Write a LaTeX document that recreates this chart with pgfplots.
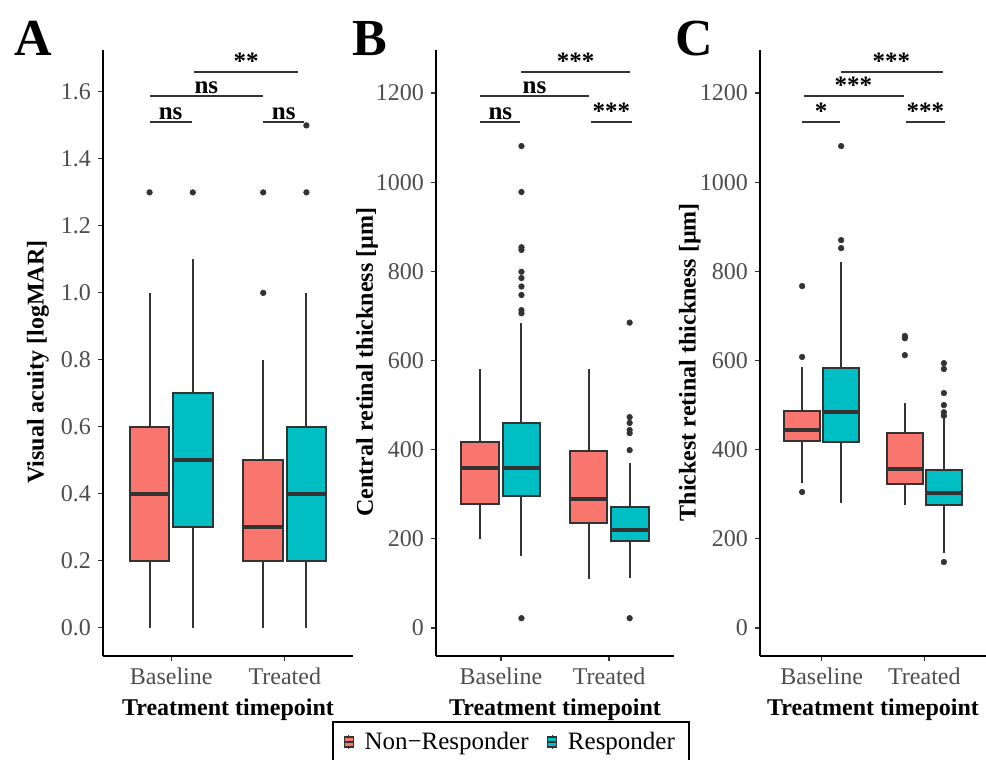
\documentclass[border=0pt]{standalone}
\usepackage{fontspec}
\setmainfont{Liberation Serif}
\usepackage{pgfplots}
\pgfplotsset{compat=1.18}

\definecolor{nr}{HTML}{F8766D}
\definecolor{rs}{HTML}{00BFC4}
\definecolor{dg}{HTML}{333333}
\definecolor{tk}{HTML}{4D4D4D}

\pgfplotsset{
  panel/.style={
    scale only axis, height=303pt, anchor=south west,
    xmin=0.4, xmax=2.6, xtick={1,2}, xticklabels={Baseline,Treated},
    axis x line*=bottom, axis y line*=left,
    axis line style={-, black, line width=1pt},
    tick align=outside, major tick length=2.5pt,
    tick style={dg, line width=0.6pt},
    ticklabel style={font=\fontsize{12}{14}\selectfont, text=tk},
    /pgf/number format/assume math mode=true,
    label style={font=\bfseries\fontsize{12}{14}\selectfont},
    xlabel={Treatment timepoint},
    clip=false,
  },
  out/.style={forget plot, only marks, mark=*, mark size=1.4pt,
    mark options={draw=dg, fill=dg, line width=0.3pt}},
  sig/.style={forget plot, dg, line width=0.9pt},
}

% colour, centre, left, right, lower whisker, Q1, median, Q3, upper whisker
\newcommand{\bxp}[9]{%
  \addplot[forget plot, dg, line width=1pt] coordinates {(#2,#5) (#2,#6)};
  \addplot[forget plot, dg, line width=1pt] coordinates {(#2,#8) (#2,#9)};
  \addplot[forget plot, draw=dg, fill=#1, line width=1pt]
    coordinates {(#3,#6) (#4,#6) (#4,#8) (#3,#8)} -- cycle;
  \addplot[forget plot, dg, line width=2pt] coordinates {(#3,#7) (#4,#7)};}
% x1, x2, y, label, centre
\newcommand{\sig}[5]{%
  \addplot[sig] coordinates {(#1,#3) (#2,#3)};
  \node[anchor=south, inner sep=1pt, font=\bfseries\fontsize{12.5}{14}\selectfont]
    at (axis cs:#5,#3) {#4};}

\begin{document}
\begin{tikzpicture}
\clip (0,0) rectangle (493pt,-380pt);

% ---- A
\begin{axis}[panel, at={(51.5pt,-328pt)}, width=125pt,
  ymin=-0.084, ymax=1.725, ytick={0,0.2,...,1.6},
  yticklabel style={/pgf/number format/.cd, fixed, fixed zerofill, precision=1},
  ylabel={Visual acuity [logMAR]},
  ylabel style={at={(axis description cs:-0.26,0.485)}, anchor=center},
  legend style={at={(axis description cs:1.632,-0.107)}, anchor=north,
    draw=black, line width=1pt, legend columns=2,
    font=\fontsize{12.5}{14}\selectfont, inner xsep=5pt, inner ysep=3pt,
    /tikz/every odd column/.append style={column sep=3pt},
    /tikz/every even column/.append style={column sep=7pt}},
  legend cell align=left]
\addlegendimage{legend image code/.code={
  \draw[dg, line width=0.6pt] (2.2pt,-3.5pt)--(2.2pt,3.5pt);
  \draw[dg, fill=nr, line width=0.6pt] (0pt,-2.5pt) rectangle (4.5pt,2.5pt);
  \draw[dg, line width=1.2pt] (0pt,0pt)--(4.5pt,0pt);}}
\addlegendentry{Non−Responder}
\addlegendimage{legend image code/.code={
  \draw[dg, line width=0.6pt] (2.2pt,-3.5pt)--(2.2pt,3.5pt);
  \draw[dg, fill=rs, line width=0.6pt] (0pt,-2.5pt) rectangle (4.5pt,2.5pt);
  \draw[dg, line width=1.2pt] (0pt,0pt)--(4.5pt,0pt);}}
\addlegendentry{Responder}
\bxp{nr}{0.81}{0.635}{0.985}{0}{0.2}{0.4}{0.6}{1.0}
\bxp{rs}{1.19}{1.015}{1.365}{0}{0.3}{0.5}{0.7}{1.1}
\bxp{nr}{1.81}{1.635}{1.985}{0}{0.2}{0.3}{0.5}{0.8}
\bxp{rs}{2.19}{2.015}{2.365}{0}{0.2}{0.4}{0.6}{1.0}
\addplot[out] coordinates {(0.81,1.3) (1.19,1.3) (1.81,1.0) (1.81,1.3) (2.19,1.3) (2.19,1.5)};
\sig{0.81}{1.18}{1.51}{ns}{0.995}
\sig{1.81}{2.17}{1.51}{ns}{1.99}
\sig{0.81}{1.81}{1.588}{ns}{1.31}
\sig{1.2}{2.12}{1.66}{**}{1.66}
\end{axis}

% ---- B
\begin{axis}[panel, at={(218pt,-328pt)}, width=119pt,
  ymin=-62.8, ymax=1296.5, ytick={0,200,...,1200},
  yticklabel style={/pgf/number format/1000 sep={}},
  ylabel={Central retinal thickness [µm]},
  ylabel style={at={(axis description cs:-0.29,0.485)}, anchor=center}]
\bxp{nr}{0.81}{0.635}{0.985}{200}{278}{359}{417}{581}
\bxp{rs}{1.19}{1.015}{1.365}{161}{296}{359}{460}{684}
\bxp{nr}{1.81}{1.635}{1.985}{110}{236}{289}{397}{581}
\bxp{rs}{2.19}{2.015}{2.365}{112}{196}{220}{272}{370}
\addplot[out] coordinates {(1.19,1081) (1.19,978) (1.19,854) (1.19,848) (1.19,799) (1.19,785) (1.19,766) (1.19,747) (1.19,713) (1.19,706) (1.19,22)
  (2.19,685) (2.19,473) (2.19,460) (2.19,444) (2.19,437) (2.19,399) (2.19,22)};
\sig{0.81}{1.18}{1135}{ns}{0.995}
\sig{1.83}{2.21}{1135}{***}{2.02}
\sig{0.81}{1.81}{1193}{ns}{1.31}
\sig{1.19}{2.19}{1247}{***}{1.69}
\end{axis}

% ---- C
\begin{axis}[panel, at={(380pt,-328pt)}, width=113pt,
  ymin=-62.8, ymax=1296.5, ytick={0,200,...,1200},
  yticklabel style={/pgf/number format/1000 sep={}},
  ylabel={Thickest retinal thickness [µm]},
  ylabel style={at={(axis description cs:-0.31,0.485)}, anchor=center}]
\bxp{nr}{0.81}{0.635}{0.985}{325}{419}{444}{487}{586}
\bxp{rs}{1.19}{1.015}{1.365}{280}{417}{484}{583}{821}
\bxp{nr}{1.81}{1.635}{1.985}{276}{323}{357}{437}{505}
\bxp{rs}{2.19}{2.015}{2.365}{168}{276}{303}{354}{470}
\addplot[out] coordinates {(0.81,767) (0.81,608) (0.81,305) (1.19,1081) (1.19,870) (1.19,852)
  (1.81,655) (1.81,650) (1.81,612)
  (2.19,594) (2.19,581) (2.19,527) (2.19,500) (2.19,484) (2.19,476) (2.19,148)};
\sig{0.81}{1.18}{1135}{*}{0.995}
\sig{1.82}{2.2}{1135}{***}{2.01}
\sig{0.83}{1.8}{1193}{***}{1.31}
\sig{1.19}{2.18}{1247}{***}{1.68}
\end{axis}

% panel letters
\node[anchor=base, font=\bfseries\fontsize{26}{28}\selectfont] at (16.5pt,-27.5pt) {A};
\node[anchor=base, font=\bfseries\fontsize{26}{28}\selectfont] at (185pt,-27.5pt) {B};
\node[anchor=base, font=\bfseries\fontsize{26}{28}\selectfont] at (347pt,-27.5pt) {C};
\end{tikzpicture}
\end{document}
